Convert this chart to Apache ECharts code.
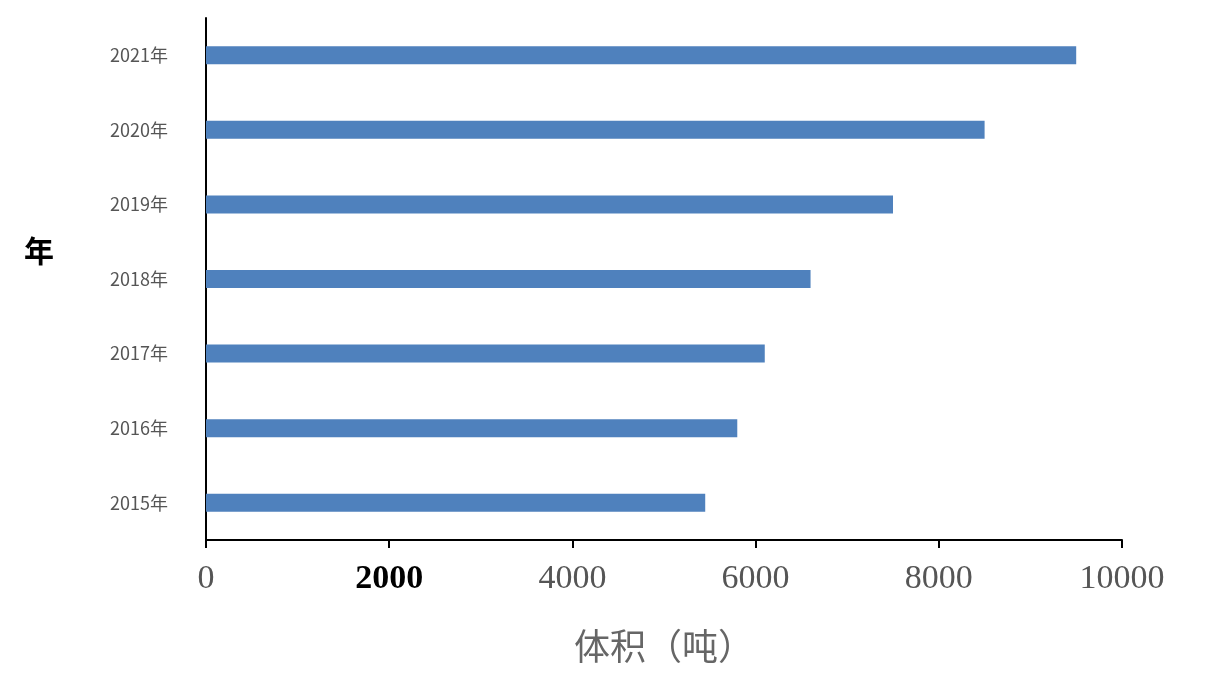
<!DOCTYPE html>
<html><head><meta charset="utf-8">
<script src="https://cdn.jsdelivr.net/npm/echarts@6/dist/echarts.min.js"></script>
<style>html,body{margin:0;padding:0;background:#fff}#c{width:1207px;height:678px}</style>
</head><body><div id="c"></div>
<script>
const categories = ['2015年','2016年','2017年','2018年','2019年','2020年','2021年'];
const values = [5450, 5800, 6100, 6600, 7500, 8500, 9500];
const xTicks = [0, 2000, 4000, 6000, 8000, 10000];
const chart = echarts.init(document.getElementById('c'));
chart.setOption({
  animation: false,
  grid: {left: 206, right: 85, top: 18, bottom: 138, containLabel: false},
  xAxis: {
    type: 'value', min: 0, max: 10000, interval: 2000,
    splitLine: {show: false},
    axisLine: {show: true, lineStyle: {color: '#000', width: 2}},
    axisTick: {show: true, length: 8, lineStyle: {color: '#000', width: 2}},
    axisLabel: {
      margin: 22, fontFamily: 'Liberation Serif', fontSize: 34, color: '#555',
      formatter: v => v === 2000 ? '{b|' + v + '}' : String(v),
      rich: {b: {fontFamily: 'Liberation Serif', fontSize: 34, fontWeight: 'bold', color: '#000'}}
    },
    name: '体积（吨）', nameLocation: 'middle', nameGap: 88,
    nameTextStyle: {fontSize: 36, color: '#666', fontFamily: 'Noto Sans CJK SC'}
  },
  yAxis: {
    type: 'category', data: categories,
    axisLine: {show: true, lineStyle: {color: '#000', width: 2}},
    axisTick: {show: false},
    axisLabel: {margin: 38, fontSize: 18, color: '#555', fontFamily: 'Noto Sans CJK SC'}
  },
  graphic: [{type: 'text', left: 24, top: 236, style: {text: '年', fontSize: 30, fontWeight: 'bold', fill: '#000', fontFamily: 'Noto Sans CJK SC'}}],
  series: [{type: 'bar', data: values, barWidth: 18, itemStyle: {color: '#4f81bd'}}]
});
</script></body></html>
